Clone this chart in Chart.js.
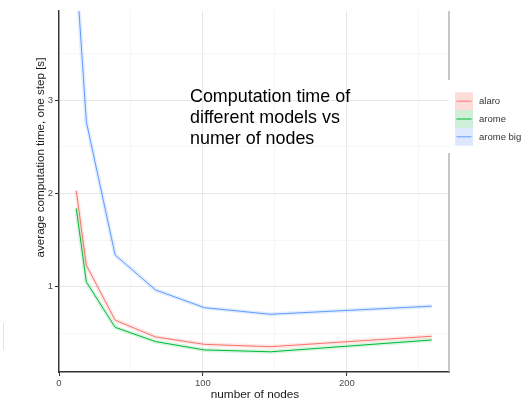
<!DOCTYPE html>
<html>
<head>
<meta charset="utf-8">
<script src="https://cdn.jsdelivr.net/npm/chart.js@4/dist/chart.umd.min.js"></script>
<style>
  html, body { margin: 0; background: #fff; }
  #wrap { width: 525px; height: 400px; }
</style>
</head>
<body>
<div id="wrap"><canvas id="c"></canvas></div>
<script>
// ----------------------
// DATA
// ----------------------
const nodes    = [12, 19, 39, 67, 101, 147, 259];
const alaro    = [2.03, 1.23, 0.64, 0.46, 0.38, 0.355, 0.467];
const arome    = [1.84, 1.05, 0.563, 0.41, 0.32, 0.30, 0.427];
const aromeBig = [4.4, 2.77, 1.34, 0.965, 0.774, 0.703, 0.79];

const seriesNames = ["alaro", "arome", "arome big"];
const xGrid   = [0, 50, 100, 150, 200, 250];
const xLabels = [0, 100, 200];
const yGrid   = [0.5, 1, 1.5, 2, 2.5, 3, 3.5];
const yLabels = [1, 2, 3];

const colors = ["#F8766D", "#00BA38", "#619CFF"];
const bands  = ["rgba(248,118,109,0.18)", "rgba(0,186,56,0.16)", "rgba(97,156,255,0.18)"];
const keyFill = ["#fddcda", "#cdefd7", "#dde8ff"];

const FONT = "'Liberation Sans', Arial, sans-serif";

const toPts = ys => nodes.map((n, i) => ({ x: n, y: ys[i] }));
const allSeries = [alaro, arome, aromeBig];

const datasets = [];
allSeries.forEach((ys, i) => {
    // ribbon
    datasets.push({ label: seriesNames[i] + " band", data: toPts(ys), borderColor: bands[i],
        borderWidth: 4, pointRadius: 0, tension: 0, clip: 0 });
});
allSeries.forEach((ys, i) => {
    datasets.push({ label: seriesNames[i], data: toPts(ys), borderColor: colors[i],
        borderWidth: 1, pointRadius: 0, tension: 0, clip: 0 });
});

// ----------------------
// TEXT, LEGEND, RIGHT BORDER
// ----------------------
const overlay = {
    id: "overlay",
    afterDraw(chart) {
        const { ctx, chartArea: a } = chart;
        ctx.save();

        // right panel border (broken by the legend box)
        ctx.strokeStyle = "#a3a3a3";
        ctx.lineWidth = 1.2;
        ctx.beginPath();
        ctx.moveTo(a.right, a.top); ctx.lineTo(a.right, 80);
        ctx.moveTo(a.right, 153); ctx.lineTo(a.right, a.bottom);
        ctx.stroke();

        // faint mark at left edge
        ctx.strokeStyle = "#e2e2e2";
        ctx.lineWidth = 1;
        ctx.beginPath(); ctx.moveTo(3.5, 323); ctx.lineTo(3.5, 350); ctx.stroke();

        // title inside the panel
        ctx.fillStyle = "#000";
        ctx.font = "17.9px " + FONT;
        ctx.textAlign = "left";
        ctx.textBaseline = "alphabetic";
        ["Computation time of", "different models vs", "numer of nodes"].forEach((t, i) => {
            ctx.fillText(t, 190, 101.8 + i * 21.3);
        });

        // y axis title
        ctx.save();
        ctx.translate(43.5, 157.5);
        ctx.rotate(-Math.PI / 2);
        ctx.font = "11.6px " + FONT;
        ctx.fillStyle = "#1a1a1a";
        ctx.textAlign = "center";
        ctx.fillText("average computation time, one step [s]", 0, 0);
        ctx.restore();

        // x axis title
        ctx.font = "11.8px " + FONT;
        ctx.fillStyle = "#1a1a1a";
        ctx.textAlign = "center";
        ctx.textBaseline = "middle";
        ctx.fillText("number of nodes", (a.left + a.right) / 2 + 1, 395);

        // legend
        seriesNames.forEach((name, i) => {
            const top = 92.3 + i * 17.8;
            ctx.fillStyle = keyFill[i];
            ctx.fillRect(455, top, 18, 17.8);
            ctx.strokeStyle = colors[i];
            ctx.lineWidth = 1;
            ctx.beginPath();
            ctx.moveTo(456.5, top + 8.9); ctx.lineTo(471.5, top + 8.9);
            ctx.stroke();
            ctx.fillStyle = "#333";
            ctx.font = "9.5px " + FONT;
            ctx.textAlign = "left";
            ctx.textBaseline = "middle";
            ctx.fillText(name, 479, top + 9);
        });
        ctx.restore();
    }
};

const isMajorX = v => xLabels.includes(v);
const isMajorY = v => yLabels.includes(v);

new Chart(document.getElementById("c"), {
    type: "line",
    data: { datasets },
    options: {
        responsive: true,
        maintainAspectRatio: false,
        animation: false,
        events: [],
        layout: { padding: { top: 11, right: 76, left: 0, bottom: 0 } },
        plugins: { legend: { display: false }, tooltip: { enabled: false } },
        scales: {
            x: {
                type: "linear",
                min: 0, max: 271,
                afterBuildTicks: s => { s.ticks = xGrid.map(v => ({ value: v })); },
                afterFit: s => { s.height = 28; },
                grid: {
                    color: c => isMajorX(c.tick.value) ? "#e8e8e8" : "#f4f4f4",
                    lineWidth: c => isMajorX(c.tick.value) ? 1 : 0.8,
                    tickColor: c => isMajorX(c.tick.value) ? "#333" : "rgba(0,0,0,0)",
                    tickLength: 4
                },
                border: { display: true, color: "#333", width: 1.4 },
                ticks: {
                    autoSkip: false, maxRotation: 0, padding: 2,
                    color: "#4d4d4d", font: { family: FONT, size: 9.5 },
                    callback: v => isMajorX(v) ? String(v) : ""
                }
            },
            y: {
                type: "linear",
                min: 0.083, max: 3.96,
                afterBuildTicks: s => { s.ticks = yGrid.map(v => ({ value: v })); },
                afterFit: s => { s.width = 59; },
                grid: {
                    color: c => isMajorY(c.tick.value) ? "#e8e8e8" : "#f4f4f4",
                    lineWidth: c => isMajorY(c.tick.value) ? 1 : 0.8,
                    tickColor: c => isMajorY(c.tick.value) ? "#333" : "rgba(0,0,0,0)",
                    tickLength: 4
                },
                border: { display: true, color: "#333", width: 1.4 },
                ticks: {
                    autoSkip: false, padding: 2,
                    color: "#4d4d4d", font: { family: FONT, size: 9.5 },
                    callback: v => isMajorY(v) ? String(v) : ""
                }
            }
        }
    },
    plugins: [overlay]
});
</script>
</body>
</html>
